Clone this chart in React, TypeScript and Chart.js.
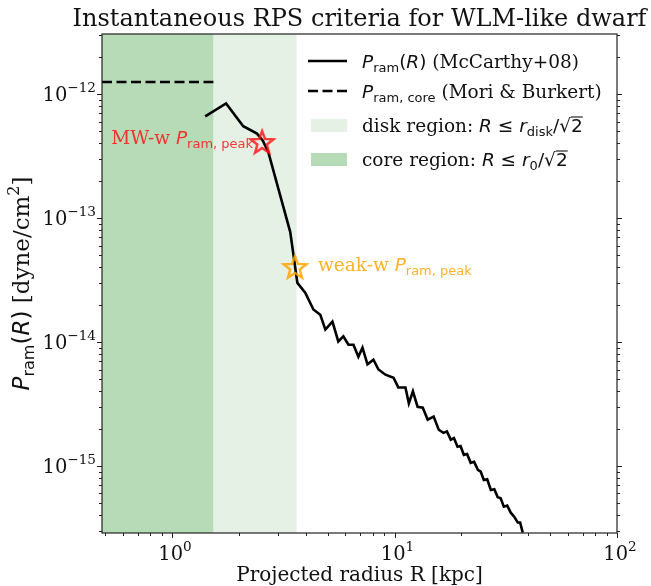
import React, { useEffect, useRef } from 'react';
import { Chart, registerables } from 'chart.js';
Chart.register(...registerables);

// ---- data ----
const R_KPC = [
  1.41, 1.75, 2.09, 2.41, 2.56, 2.71, 3.40, 3.66, 3.97, 4.32, 4.64, 4.89, 5.26, 5.59, 5.89,
  6.21, 6.54, 6.88, 7.18, 7.56, 8.04, 8.47, 9.11, 9.90, 10.4, 11.2, 11.6, 12.1, 12.7, 13.4,
  14.1, 15.0, 15.8, 16.6, 17.2, 17.9, 18.5, 19.2, 19.8, 20.5, 21.2, 22.0, 22.8, 23.7, 24.4,
  25.2, 26.1, 27.1, 28.1, 29.1, 30.0, 31.0, 32.1, 33.3, 34.5, 35.8, 36.7, 37.7,
];
const P_RAM = [
  6.6e-13, 8.4e-13, 5.5e-13, 4.8e-13, 4.2e-13, 3.4e-13, 7.7e-14, 3.0e-14, 2.5e-14, 1.83e-14,
  1.66e-14, 1.26e-14, 1.46e-14, 1.01e-14, 1.11e-14, 9.5e-15, 9.5e-15, 7.6e-15, 9.0e-15, 6.6e-15,
  7.2e-15, 6.0e-15, 5.45e-15, 5.15e-15, 4.3e-15, 4.3e-15, 3.2e-15, 4.0e-15, 3.0e-15, 2.95e-15,
  2.36e-15, 2.5e-15, 1.96e-15, 1.85e-15, 1.9e-15, 1.63e-15, 1.68e-15, 1.43e-15, 1.45e-15, 1.23e-15,
  1.25e-15, 1.06e-15, 1.08e-15, 9.3e-16, 9.0e-16, 7.7e-16, 7.8e-16, 6.4e-16, 6.5e-16, 5.6e-16,
  5.5e-16, 4.7e-16, 4.8e-16, 4.2e-16, 3.9e-16, 3.5e-16, 3.5e-16, 2.9e-16,
];
const CORE_LINE_R = [0.4846, 1.534];
const CORE_LINE_P = [1.25e-12, 1.25e-12];
const R_CORE = 1.534;
const R_DISK = 3.63;
const PEAK_R = [2.54, 3.57];
const PEAK_P = [4.1e-13, 4.03e-14];
const PEAK_LABELS = ['MW-w', 'weak-w'];
const PEAK_COLORS = ['rgba(255,20,20,0.85)', 'rgba(255,165,0,0.85)'];

const X_MIN = 0.4846, X_MAX = 100;
const Y_MIN = 2.88e-16, Y_MAX = 3.05e-12;
const X_TICK_EXP = [0, 1, 2];
const Y_TICK_EXP = [-12, -13, -14, -15];

const TITLE = 'Instantaneous RPS criteria for WLM-like dwarf';
const X_LABEL = 'Projected radius R [kpc]';

const CORE_COLOR = 'rgb(182,219,182)';
const DISK_COLOR = 'rgb(229,241,229)';

// ---- text helpers ----
const SERIF = '"DejaVu Serif", serif';
const SANS = '"DejaVu Sans", sans-serif';
const fnt = (size: number, fam: string, italic = false) => `${italic ? 'italic ' : ''}${size}px ${fam}`;

type Seg = { t: string; font: string; dy?: number; over?: number };

function richWidth(ctx: CanvasRenderingContext2D, segs: Seg[]) {
  let w = 0;
  for (const s of segs) { ctx.font = s.font; w += ctx.measureText(s.t).width; }
  return w;
}
function drawRich(ctx: CanvasRenderingContext2D, segs: Seg[], x: number, y: number, align: 'left' | 'right' | 'center', color: string) {
  const w = richWidth(ctx, segs);
  let cx = align === 'left' ? x : align === 'right' ? x - w : x - w / 2;
  ctx.fillStyle = color; ctx.strokeStyle = color;
  ctx.textAlign = 'left'; ctx.textBaseline = 'alphabetic';
  for (const s of segs) {
    ctx.font = s.font;
    const sw = ctx.measureText(s.t).width;
    ctx.fillText(s.t, cx, y + (s.dy || 0));
    if (s.over) {
      ctx.lineWidth = 1.1;
      ctx.beginPath(); ctx.moveTo(cx, y - s.over); ctx.lineTo(cx + sw, y - s.over); ctx.stroke();
    }
    cx += sw;
  }
}
const mathP = (sub: string, size: number): Seg[] => [
  { t: 'P', font: fnt(size, SANS, true) },
  { t: sub, font: fnt(Math.round(size * 0.7 * 10) / 10, SANS), dy: Math.round(size * 0.22) },
];

function makeStar(color: string) {
  const size = 30, outer = 12, inner = 5;
  const c = document.createElement('canvas');
  c.width = size; c.height = size;
  const g = c.getContext('2d')!;
  g.beginPath();
  for (let i = 0; i < 10; i++) {
    const a = -Math.PI / 2 + (i * Math.PI) / 5;
    const r = i % 2 ? inner : outer;
    const px = size / 2 + r * Math.cos(a), py = size / 2 + 1 + r * Math.sin(a);
    if (i === 0) g.moveTo(px, py); else g.lineTo(px, py);
  }
  g.closePath();
  g.strokeStyle = color; g.lineWidth = 2.4; g.lineJoin = 'miter';
  g.stroke();
  return c;
}

const FS = 19.5; // tick label font size
const YL = 23; // y-axis label font size

const decorPlugin = {
  id: 'decor',
  beforeDatasetsDraw(chart: any) {
    const { ctx, chartArea: a, scales } = chart;
    const xs = scales.x;
    ctx.save();
    const xc = xs.getPixelForValue(R_CORE), xd = xs.getPixelForValue(R_DISK);
    ctx.fillStyle = DISK_COLOR; ctx.fillRect(xc, a.top, xd - xc, a.bottom - a.top);
    ctx.fillStyle = CORE_COLOR; ctx.fillRect(a.left, a.top, xc - a.left, a.bottom - a.top);
    ctx.restore();
  },
  afterDatasetsDraw(chart: any) {
    const { ctx, chartArea: a, scales } = chart;
    const xs = scales.x, ys = scales.y;
    ctx.save();
    // spines
    ctx.strokeStyle = '#222'; ctx.lineWidth = 1.2;
    ctx.strokeRect(a.left, a.top, a.right - a.left, a.bottom - a.top);
    // ticks
    ctx.lineWidth = 1;
    const tick = (x1: number, y1: number, x2: number, y2: number) => { ctx.beginPath(); ctx.moveTo(x1, y1); ctx.lineTo(x2, y2); ctx.stroke(); };
    for (let e = -1; e <= 2; e++) {
      for (let k = 1; k <= 9; k++) {
        const v = k * Math.pow(10, e);
        if (v < X_MIN || v > X_MAX * 1.0001) continue;
        const px = Math.round(xs.getPixelForValue(v)) + 0.5;
        tick(px, a.bottom, px, a.bottom + (k === 1 ? 5 : 3));
      }
    }
    for (let e = -16; e <= -12; e++) {
      for (let k = 1; k <= 9; k++) {
        const v = k * Math.pow(10, e);
        if (v < Y_MIN || v > Y_MAX) continue;
        const py = Math.round(ys.getPixelForValue(v)) + 0.5;
        const len = k === 1 ? 5 : 3;
        tick(a.left, py, a.left - len, py);
        tick(a.right, py, a.right + len, py);
      }
    }
    // tick labels
    for (const e of X_TICK_EXP) {
      const px = xs.getPixelForValue(Math.pow(10, e));
      drawRich(ctx, [
        { t: '10', font: fnt(FS, SERIF) },
        { t: String(e), font: fnt(13.6, SERIF), dy: -9 },
      ], px + 3, a.bottom + 27, 'center', '#111');
    }
    for (const e of Y_TICK_EXP) {
      const py = ys.getPixelForValue(Math.pow(10, e));
      drawRich(ctx, [
        { t: '10', font: fnt(FS, SERIF) },
        { t: '\u2212' + String(-e), font: fnt(13.6, SERIF), dy: -9 },
      ], a.left - 6, py + 7, 'right', '#111');
    }
    // axis labels
    drawRich(ctx, [{ t: X_LABEL, font: fnt(20, SERIF) }], (a.left + a.right) / 2, 581, 'center', '#111');
    ctx.save();
    ctx.translate(29, (a.top + a.bottom) / 2);
    ctx.rotate(-Math.PI / 2);
    drawRich(ctx, [
      ...mathP('ram', YL),
      { t: '(', font: fnt(YL, SANS) },
      { t: 'R', font: fnt(YL, SANS, true) },
      { t: ')', font: fnt(YL, SANS) },
      { t: ' [dyne/cm', font: fnt(YL, SERIF) },
      { t: '2', font: fnt(16, SERIF), dy: -10 },
      { t: ']', font: fnt(YL, SERIF) },
    ], 0, 0, 'center', '#111');
    ctx.restore();
    // title
    drawRich(ctx, [{ t: TITLE, font: fnt(24, SERIF) }], (a.left + a.right) / 2, 26, 'center', '#111');

    // peak annotations
    const mx = xs.getPixelForValue(PEAK_R[0]), my = ys.getPixelForValue(PEAK_P[0]);
    drawRich(ctx, [{ t: PEAK_LABELS[0] + ' ', font: fnt(18.5, SERIF) }, ...mathP('ram, peak', 18.5)], mx - 9, my + 2, 'right', PEAK_COLORS[0]);
    const wx = xs.getPixelForValue(PEAK_R[1]), wy = ys.getPixelForValue(PEAK_P[1]);
    drawRich(ctx, [{ t: PEAK_LABELS[1] + ' ', font: fnt(18.5, SERIF) }, ...mathP('ram, peak', 18.5)], wx + 23, wy + 4, 'left', PEAK_COLORS[1]);

    // legend
    const lx0 = 308, lx1 = 347, tx = 362;
    const rows = [61, 91, 125, 159];
    ctx.strokeStyle = '#000'; ctx.lineWidth = 2.6;
    ctx.beginPath(); ctx.moveTo(lx0, rows[0]); ctx.lineTo(lx1, rows[0]); ctx.stroke();
    ctx.setLineDash([10, 4.5]);
    ctx.beginPath(); ctx.moveTo(lx0, rows[1]); ctx.lineTo(lx1, rows[1]); ctx.stroke();
    ctx.setLineDash([]);
    ctx.fillStyle = DISK_COLOR; ctx.fillRect(311, rows[2] - 6, 36, 13);
    ctx.fillStyle = CORE_COLOR; ctx.fillRect(311, rows[3] - 6, 36, 13);
    const LS = 18.5, SS = 13;
    drawRich(ctx, [...mathP('ram', LS), { t: '(', font: fnt(LS, SANS) }, { t: 'R', font: fnt(LS, SANS, true) }, { t: ')', font: fnt(LS, SANS) }, { t: ' (McCarthy+08)', font: fnt(LS, SERIF) }], tx, rows[0] + 7, 'left', '#111');
    drawRich(ctx, [...mathP('ram, core', LS), { t: ' (Mori & Burkert)', font: fnt(LS, SERIF) }], tx, rows[1] + 7, 'left', '#111');
    drawRich(ctx, [{ t: 'disk region: ', font: fnt(LS, SERIF) }, { t: 'R', font: fnt(LS, SANS, true) }, { t: ' \u2264 ', font: fnt(LS, SANS) }, { t: 'r', font: fnt(LS, SANS, true) }, { t: 'disk', font: fnt(SS, SANS), dy: 4 }, { t: '/\u221A', font: fnt(LS, SANS) }, { t: '2', font: fnt(LS, SANS), over: 15 }], tx, rows[2] + 7, 'left', '#111');
    drawRich(ctx, [{ t: 'core region: ', font: fnt(LS, SERIF) }, { t: 'R', font: fnt(LS, SANS, true) }, { t: ' \u2264 ', font: fnt(LS, SANS) }, { t: 'r', font: fnt(LS, SANS, true) }, { t: '0', font: fnt(SS, SANS), dy: 4 }, { t: '/\u221A', font: fnt(LS, SANS) }, { t: '2', font: fnt(LS, SANS), over: 15 }], tx, rows[3] + 7, 'left', '#111');
    ctx.restore();
  },
};

export default function App() {
  const ref = useRef<HTMLCanvasElement | null>(null);
  useEffect(() => {
    if (!ref.current) return;
    const stars = PEAK_COLORS.map(makeStar);
    const chart = new Chart(ref.current, {
      type: 'line',
      data: {
        datasets: [
          ...PEAK_R.map((r, i) => ({
            type: 'scatter' as const,
            data: [{ x: r, y: PEAK_P[i] }],
            pointStyle: stars[i] as any,
            pointRadius: 12,
            showLine: false,
          })),
          {
            data: R_KPC.map((r, i) => ({ x: r, y: P_RAM[i] })),
            borderColor: '#000', borderWidth: 2.6, pointRadius: 0, tension: 0,
            borderJoinStyle: 'miter' as const,
          },
          {
            data: CORE_LINE_R.map((r, i) => ({ x: r, y: CORE_LINE_P[i] })),
            borderColor: '#000', borderWidth: 2.6, pointRadius: 0, borderDash: [10, 4.5],
          },
        ],
      },
      options: {
        responsive: false,
        animation: false,
        devicePixelRatio: 1,
        layout: { padding: { left: 102, top: 34, right: 34, bottom: 53 } },
        scales: {
          x: { type: 'logarithmic', min: X_MIN, max: X_MAX, display: false },
          y: { type: 'logarithmic', min: Y_MIN, max: Y_MAX, display: false },
        },
        plugins: { legend: { display: false }, tooltip: { enabled: false } },
      },
      plugins: [decorPlugin],
    });
    return () => chart.destroy();
  }, []);
  return (
    <div style={{ position: 'fixed', left: 0, top: 0, width: 651, height: 586, background: '#fff' }}>
      <canvas ref={ref} width={651} height={586} style={{ width: 651, height: 586, display: 'block' }} />
    </div>
  );
}
